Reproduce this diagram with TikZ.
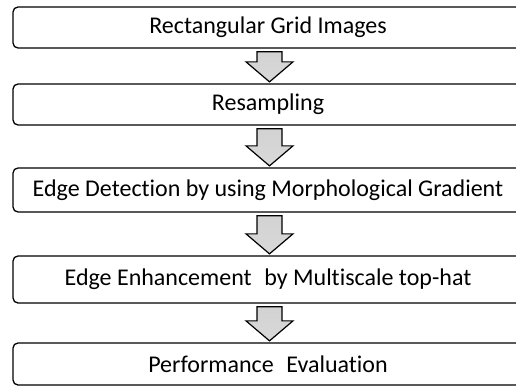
\documentclass[tikz,border=0pt]{standalone}
\usepackage{fontspec}
\setmainfont[Ligatures={NoCommon,NoContextual}]{Carlito}
\usetikzlibrary{calc}
\tikzset{
  stage/.style={draw=black, line width=1.3pt, rounded corners=5pt, minimum width=510pt, fill=white, inner sep=0pt, font=\fontsize{24}{26}\selectfont},
  blockarrow/.style={draw=black, line width=1.2pt, line join=miter, top color=gray!35, middle color=gray!60, bottom color=gray!30}
}
\newcommand{\blockarr}[2]{%
  \path[blockarrow] let \p1=($(#1.south)+(1.5,-3)$), \p2=($(#2.north)+(1.5,1.5)$) in
    (\x1-12.5,\y1) -- (\x1+12.5,\y1) -- (\x1+12.5,\y2+20) -- (\x1+23.5,\y2+20) -- (\x1,\y2) -- (\x1-23.5,\y2+20) -- (\x1-12.5,\y2+20) -- cycle;}
\begin{document}
\begin{tikzpicture}[x=1pt,y=1pt]
\useasboundingbox (0,0) rectangle (516,-388);
\clip (0,0) rectangle (516,-388);
\node[stage, minimum height=41pt] (b1) at (268,-27.5) {Rectangular Grid Images};
\node[stage, minimum height=41pt] (b2) at (268,-104.5) {Resampling};
\node[stage, minimum height=44pt] (b3) at (268,-190) {Edge Detection by using Morphological Gradient};
\node[stage, minimum height=47pt] (b4) at (268,-279.5) {Edge Enhancement\hspace{0.3em} by Multiscale top-hat};
\node[stage, minimum height=42pt] (b5) at (268,-364) {Performance\hspace{0.3em} Evaluation};
\blockarr{b1}{b2}
\blockarr{b2}{b3}
\blockarr{b3}{b4}
\blockarr{b4}{b5}
\end{tikzpicture}
\end{document}
